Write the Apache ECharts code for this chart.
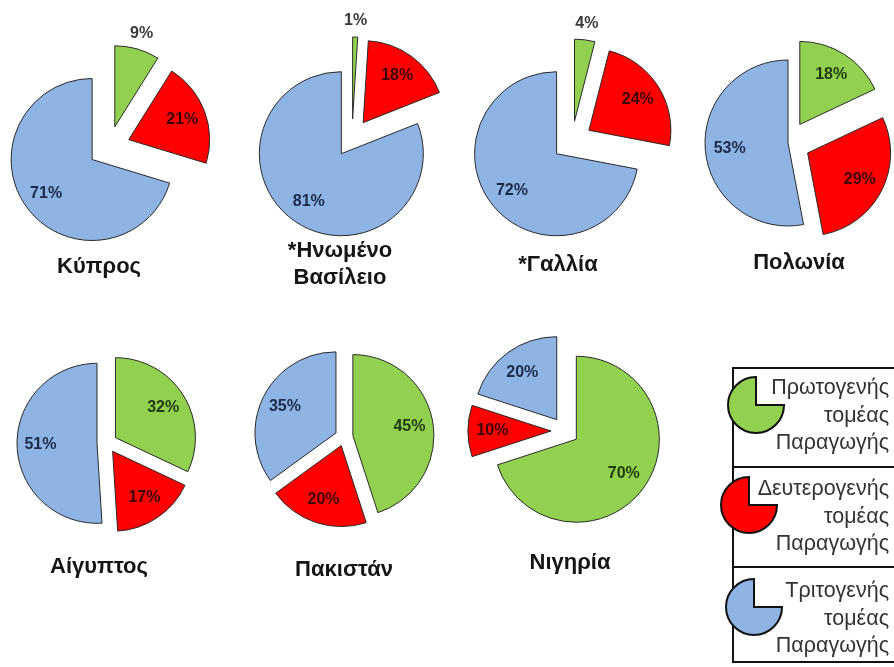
<!DOCTYPE html>
<html><head><meta charset="utf-8">
<script src="https://cdn.jsdelivr.net/npm/echarts@6/dist/echarts.min.js"></script>
<style>html,body{margin:0;padding:0;background:#fff}#c{width:894px;height:667px}</style>
</head><body><div id="c"></div>
<script>
// ---- data ----
const sectors = ['Πρωτογενής τομέας Παραγωγής', 'Δευτερογενής τομέας Παραγωγής', 'Τριτογενής τομέας Παραγωγής'];
const countries = ['Κύπρος', '*Ηνωμένο\nΒασίλειο', '*Γαλλία', 'Πολωνία', 'Αίγυπτος', 'Πακιστάν', 'Νιγηρία'];
const primary   = [9, 1, 4, 18, 32, 45, 70];
const secondary = [21, 18, 24, 29, 17, 20, 10];
const tertiary  = [71, 81, 72, 53, 51, 35, 20];

// ---- style / layout ----
const fills = ['#92d050', '#ff0000', '#8eb4e3'];
const labelColors = ['#1f3a0c', '#3a0505', '#1b2a4a'];
const layout = [
  {c: [109, 147], r: 81, off: 21, sel: [1, 1, 1], outer: [1, 0, 0], shift: [-11, 0], t: [99, 267]},
  {c: [352, 138], r: 82, off: 19, sel: [1, 1, 1], outer: [1, 0, 0], shift: [2, 1], t: [340, 264]},
  {c: [572, 141], r: 82, off: 20, sel: [1, 1, 1], outer: [1, 0, 0], shift: [-3, 0], t: [558, 265]},
  {c: [788, 143], r: 83, off: 22, sel: [1, 1, 0], outer: [0, 0, 0], shift: [0, 0], t: [799, 263]},
  {c: [107, 443], r: 80, off: 10, sel: [1, 1, 1], outer: [0, 0, 0], shift: [0, 0], t: [99, 567]},
  {c: [344, 437], r: 81, off: 9,  sel: [1, 1, 1], outer: [0, 0, 0], shift: [0, 0], t: [344, 570]},
  {c: [565, 431], r: 83, off: 14, sel: [1, 1, 1], outer: [0, 0, 0], shift: [0, 0], t: [570, 563]}
];
const FONT = '"Liberation Sans", Arial, sans-serif';

const series = [];
const graphic = [];
countries.forEach((name, i) => {
  const L = layout[i];
  const vals = [primary[i], secondary[i], tertiary[i]];
  const common = {
    type: 'pie', center: L.c, startAngle: 90, clockwise: true,
    selectedMode: 'multiple', selectedOffset: L.off, silent: true,
    animation: false, avoidLabelOverlap: false, labelLine: {show: false},
    emphasis: {disabled: true}
  };
  // visible slices
  series.push(Object.assign({}, common, {
    name: name, radius: [0, L.r],
    label: {show: false},
    itemStyle: {borderColor: '#2a2a2a', borderWidth: 1},
    data: vals.map((v, k) => ({name: sectors[k], value: v, selected: !!L.sel[k], itemStyle: {color: fills[k]}}))
  }));
  // inside labels
  series.push(Object.assign({}, common, {
    radius: [L.r * 0.34, L.r],
    itemStyle: {color: 'rgba(0,0,0,0)', borderWidth: 0},
    label: {show: true, position: 'inside', formatter: '{c}%', fontSize: 16, fontWeight: 'bold', fontFamily: FONT},
    data: vals.map((v, k) => ({name: sectors[k], value: v, selected: !!L.sel[k],
      label: {show: !L.outer[k], color: labelColors[k]}}))
  }));
  // outside labels for thin slices
  if (L.outer.some(x => x)) {
    series.push(Object.assign({}, common, {
      radius: [L.r + 3, L.r + 23],
      itemStyle: {color: 'rgba(0,0,0,0)', borderWidth: 0},
      label: {show: true, position: 'inside', formatter: '{c}%', fontSize: 16, fontWeight: 'bold', fontFamily: FONT, color: '#3a3a3a', offset: L.shift},
      data: vals.map((v, k) => ({name: sectors[k], value: v, selected: !!L.sel[k],
        label: {show: !!L.outer[k]}}))
    }));
  }
  graphic.push({
    type: 'text', x: L.t[0], y: L.t[1], silent: true,
    style: {text: name, align: 'center', verticalAlign: 'middle', font: 'bold 22px ' + FONT, fill: '#151515', lineHeight: 27}
  });
});

// legend box
const box = {x: 733, top: 368, bottom: 662, right: 905, seps: [467, 567]};
graphic.push({type: 'rect', silent: true, shape: {x: box.x, y: box.top, width: box.right - box.x, height: box.bottom - box.top},
  style: {fill: '#fff', stroke: '#111', lineWidth: 2}});
box.seps.forEach(y => graphic.push({type: 'line', silent: true, shape: {x1: box.x, y1: y, x2: box.right, y2: y}, style: {stroke: '#111', lineWidth: 2}}));
const iconPos = [[756, 405], [749, 505], [754, 607]];
const textPos = [416, 517, 619];
sectors.forEach((s, k) => {
  graphic.push({type: 'sector', silent: true, z: 5,
    shape: {cx: iconPos[k][0], cy: iconPos[k][1], r: 28, startAngle: 0, endAngle: Math.PI * 1.5, clockwise: true},
    style: {fill: fills[k], stroke: '#111', lineWidth: 2}});
  graphic.push({type: 'text', silent: true, z: 6, x: 889, y: textPos[k],
    style: {text: s.split(' ').join('\n'), align: 'right', verticalAlign: 'middle', font: '21.5px ' + FONT, fill: '#333', lineHeight: 27.5}});
});

const chart = echarts.init(document.getElementById('c'), null, {renderer: 'canvas'});
chart.setOption({animation: false, backgroundColor: '#fff', series: series, graphic: graphic});
</script></body></html>
